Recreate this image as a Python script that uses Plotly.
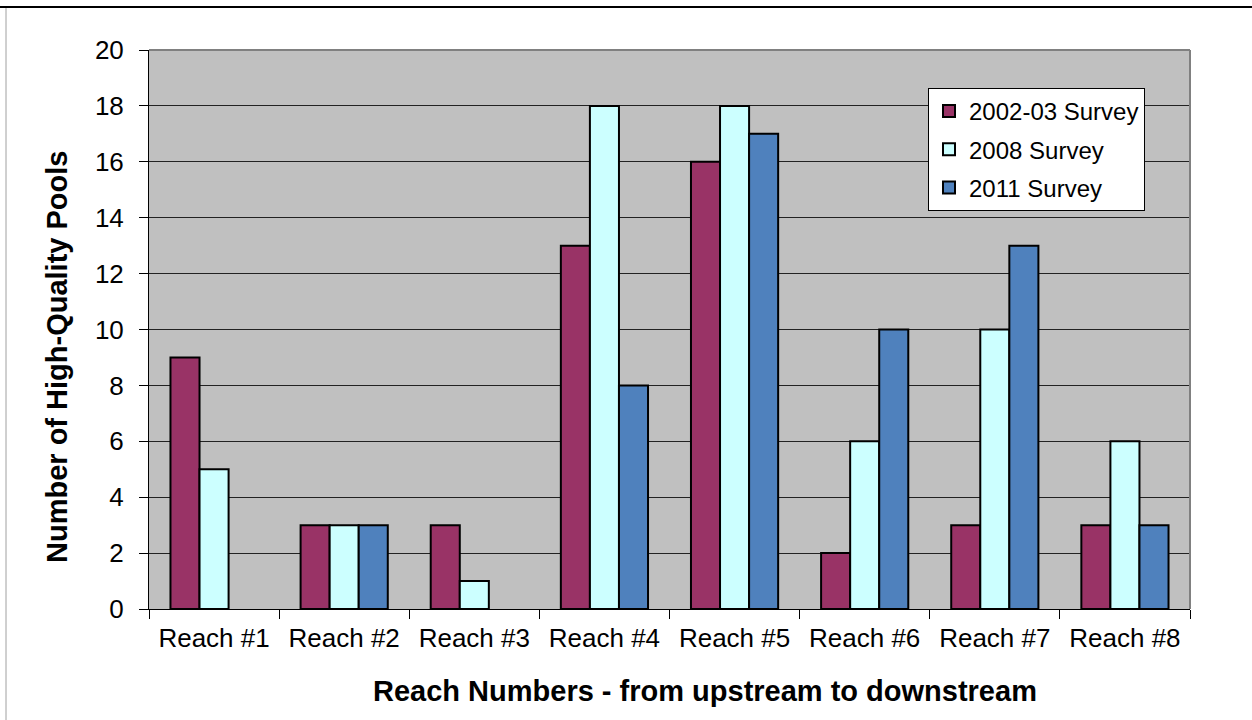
import plotly.graph_objects as go

reaches = ["Reach #1", "Reach #2", "Reach #3", "Reach #4",
           "Reach #5", "Reach #6", "Reach #7", "Reach #8"]
survey_2002_03 = [9, 3, 3, 13, 16, 2, 3, 3]
survey_2008 = [5, 3, 1, 18, 18, 6, 10, 6]
survey_2011 = [0, 3, 0, 8, 17, 10, 13, 3]
y_ticks = [0, 2, 4, 6, 8, 10, 12, 14, 16, 18, 20]

series = [
    ("2002-03 Survey", survey_2002_03, "#993366"),
    ("2008 Survey", survey_2008, "#CCFFFF"),
    ("2011 Survey", survey_2011, "#4F81BD"),
]

FONT = "Arial, Liberation Sans, sans-serif"

fig = go.Figure()
for i, (name, vals, color) in enumerate(series):
    # empty bars get no outline so nothing is drawn on the baseline
    outline = [2 if v > 0 else 0 for v in vals]
    fig.add_trace(go.Bar(
        x=reaches, y=vals, name=name, legendgroup=f"g{i}",
        marker=dict(color=color, line=dict(color="black", width=outline)),
    ))

L, R, T, B = 149, 62, 50, 111
W, H = 1252, 720
pw, ph = W - L - R, H - T - B


def px_x(x):
    return (x - L) / pw


def px_y(y):
    return 1 - (y - T) / ph


fig.update_layout(
    width=W, height=H,
    margin=dict(l=L, r=R, t=T, b=B),
    paper_bgcolor="white",
    plot_bgcolor="#C0C0C0",
    barmode="group",
    bargap=0.33,
    bargroupgap=0,
    font=dict(family=FONT, size=26, color="black"),
    showlegend=True,
    legend=dict(
        x=px_x(928), y=px_y(88),
        xanchor="left", yanchor="top",
        bgcolor="white", bordercolor="black", borderwidth=1,
        font=dict(family=FONT, size=24, color="black"),
        traceorder="grouped", tracegroupgap=4,
        itemsizing="constant",
    ),
    xaxis=dict(
        showline=True, linecolor="black", linewidth=1,
        ticks="outside", ticklen=9, tickcolor="black",
        tickson="boundaries",
        tickfont=dict(family=FONT, size=26),
        ticklabelstandoff=6,
        showgrid=False,
    ),
    yaxis=dict(
        range=[0, 20], tickvals=y_ticks,
        showline=True, linecolor="black", linewidth=1,
        ticks="outside", ticklen=9, tickcolor="black",
        showgrid=True, gridcolor="#222222", gridwidth=1,
        tickfont=dict(family=FONT, size=26),
        ticklabelstandoff=10,
        zeroline=False,
    ),
    annotations=[
        dict(text="<b>Reach Numbers - from upstream to downstream</b>",
             xref="paper", yref="paper",
             x=px_x(705), y=px_y(691),
             xanchor="center", yanchor="middle", showarrow=False,
             font=dict(family=FONT, size=29, color="black")),
        dict(text="<b>Number of High-Quality Pools</b>",
             xref="paper", yref="paper", textangle=-90,
             x=px_x(57), y=px_y(357),
             xanchor="center", yanchor="middle", showarrow=False,
             font=dict(family=FONT, size=29, color="black")),
    ],
    shapes=[
        # grey frame on the top and right of the plotting area
        dict(type="line", xref="paper", yref="paper", x0=0, x1=1, y0=1, y1=1,
             line=dict(color="#808080", width=2), layer="above"),
        dict(type="line", xref="paper", yref="paper", x0=1, x1=1, y0=0, y1=1,
             line=dict(color="#808080", width=2), layer="above"),
        # outer page frame
        dict(type="line", xref="paper", yref="paper",
             x0=px_x(0), x1=px_x(W), y0=px_y(7), y1=px_y(7),
             line=dict(color="black", width=2)),
        dict(type="line", xref="paper", yref="paper",
             x0=px_x(6), x1=px_x(6), y0=px_y(8), y1=px_y(H),
             line=dict(color="#A0A0A0", width=1)),
    ],
)

fig.write_html("out.html")
